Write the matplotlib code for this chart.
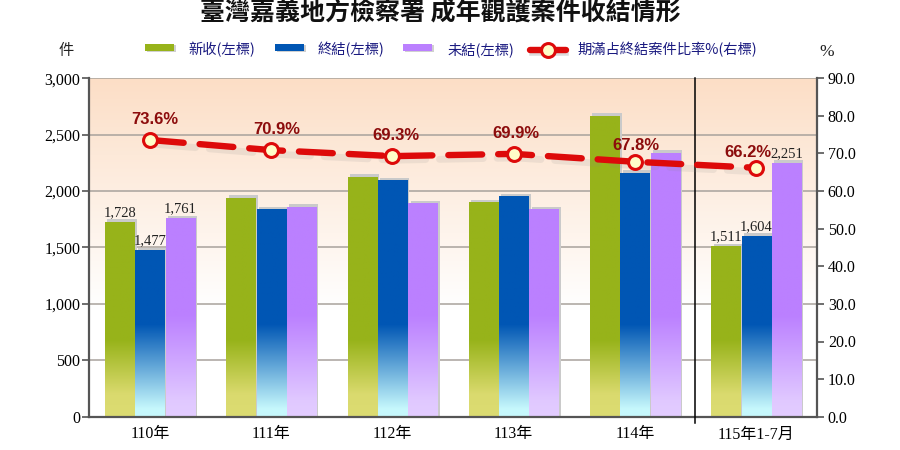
import numpy as np
import matplotlib
matplotlib.use('Agg')
import matplotlib.pyplot as plt
import matplotlib.colors as mcolors
import matplotlib.transforms as mtransforms
from matplotlib.patches import Rectangle
from matplotlib.lines import Line2D
from matplotlib.ticker import FuncFormatter, FormatStrFormatter

# ---------------- data ----------------
title = '臺灣嘉義地方檢察署 成年觀護案件收結情形'
categories = ['110年', '111年', '112年', '113年', '114年', '115年1-7月']
new_cases = [1728, 1941, 2128, 1901, 2666, 1511]        # 新收(左標)
closed_cases = [1477, 1839, 2098, 1956, 2163, 1604]     # 終結(左標)
pending_cases = [1761, 1862, 1892, 1839, 2340, 2251]    # 未結(左標)
expiry_ratio = [73.6, 70.9, 69.3, 69.9, 67.8, 66.2]     # 期滿占終結案件比率%(右標)
series_names = ['新收(左標)', '終結(左標)', '未結(左標)', '期滿占終結案件比率%(右標)']
left_ticks = [0, 500, 1000, 1500, 2000, 2500, 3000]
right_ticks = [0, 10, 20, 30, 40, 50, 60, 70, 80, 90]
labelled_groups = [0, 5]

# ---------------- style ----------------
SERIF = ['Liberation Serif', 'Noto Sans CJK TC']
CJK = ['Noto Sans CJK TC', 'DejaVu Sans']
base_colors = ['#97B31A', '#0056B4', '#BB80FF']
grad_stops = [
    [(0, '#DCDC72'), (200, '#DADA6E'), (680, '#97B31A'), (3000, '#97B31A')],
    [(0, '#C6F8FC'), (70, '#C6F8FC'), (820, '#0056B4'), (3000, '#0056B4')],
    [(0, '#E3CDFF'), (150, '#E0C8FF'), (900, '#BB80FF'), (3000, '#BB80FF')],
]
bg_stops = [(0, '#FFFFFF'), (950, '#FFFFFF'), (3000, '#FCDEC6')]
label_offsets = [(3.6, 15), (4.3, 15), (2.5, 15), (1.8, 14.4), (1.0, 11.5), (-6.0, 11)]


def gradient(stops, top=3000, n=400):
    ys = np.linspace(0, top, n)
    pos = [p for p, _ in stops]
    cols = np.array([mcolors.to_rgb(c) for _, c in stops])
    img = np.stack([np.interp(ys, pos, cols[:, k]) for k in range(3)], axis=-1)
    return img[:, None, :]


W, H = 900, 450
fig = plt.figure(figsize=(9, 4.5), dpi=100)
L, R, T, B = 89.3, 816.7, 78.3, 416.7
ax = fig.add_axes([L / W, 1 - B / H, (R - L) / W, (B - T) / H])

x = np.arange(len(categories))
ymax = 3000

# background gradient
ax.imshow(gradient(bg_stops), origin='lower', extent=[-0.5, 5.5, 0, ymax],
          aspect='auto', interpolation='bilinear', zorder=0)

bw = 0.24
offs = [-0.25, 0.0, 0.25]
all_series = [new_cases, closed_cases, pending_cases]
for s, (vals, col, stops) in enumerate(zip(all_series, base_colors, grad_stops)):
    # shadow
    ax.bar(x + offs[s] + 0.02, np.array(vals) + 22, width=bw, color='#CACACA',
           zorder=1.5, linewidth=0)
    bars = ax.bar(x + offs[s], vals, width=bw, color=col, zorder=2, linewidth=0)
    img = gradient(stops)
    for rect in bars:
        x0 = rect.get_x()
        im = ax.imshow(img, origin='lower', extent=[x0, x0 + rect.get_width(), 0, ymax],
                       aspect='auto', interpolation='bilinear', zorder=2.1)
        im.set_clip_path(rect)
    for g in labelled_groups:
        ax.annotate(f'{vals[g]:,}', (x[g] + offs[s], vals[g]), xytext=(0, 2),
                    textcoords='offset points', ha='center', va='bottom',
                    fontsize=10.5, family=SERIF, color='#222222', zorder=5)

ax.set_xlim(-0.5, 5.5)
ax.set_ylim(0, ymax)
ax.set_yticks(left_ticks)
ax.yaxis.set_major_formatter(FuncFormatter(lambda v, p: f'{int(v):,}'))
ax.set_xticks(x)
ax.set_xticklabels(categories, family=SERIF, fontsize=11.5)
ax.tick_params(axis='x', length=0, pad=7)
ax.tick_params(axis='y', direction='out', length=5, width=1.2, color='#555555',
               labelsize=11.5, pad=1.5)
for lab in ax.get_yticklabels():
    lab.set_family(SERIF)
ax.set_axisbelow(True)
ax.grid(axis='y', color='#A8A29C', linewidth=1.1)
ax.grid(axis='x', visible=False)
ax.spines['top'].set_visible(False)
ax.spines['right'].set_visible(False)
for sp in ['left', 'bottom']:
    ax.spines[sp].set_color('#555555')
    ax.spines[sp].set_linewidth(1.6)

# separator
ax.axvline(4.5, ymin=-0.018, ymax=1, color='black', lw=1.1, clip_on=False, zorder=3)

# right axis
ax2 = ax.twinx()
ax2.set_ylim(0, 90)
ax2.set_yticks(right_ticks)
ax2.yaxis.set_major_formatter(FormatStrFormatter('%.1f'))
ax2.tick_params(axis='y', direction='out', length=5, width=1.2, color='#555555',
                labelsize=11.5, pad=3)
for lab in ax2.get_yticklabels():
    lab.set_family(SERIF)
for sp in ['top', 'left', 'bottom']:
    ax2.spines[sp].set_visible(False)
ax2.spines['right'].set_color('#555555')
ax2.spines['right'].set_linewidth(1.6)

shadow_tr = mtransforms.offset_copy(ax2.transData, fig=fig, x=2, y=-4, units='dots')
ax2.plot(x, expiry_ratio, color='#888888', alpha=0.13, lw=5, dashes=(6.3, 2.0),
         dash_capstyle='round', transform=shadow_tr, zorder=3)
ax2.plot(x, expiry_ratio, color='#DD0A0A', lw=4.6, dashes=(5.3, 2.5),
         dash_capstyle='round', zorder=4)
ax2.plot(x, expiry_ratio, linestyle='none', marker='o', markersize=10,
         markerfacecolor='#FFFDC8', markeredgecolor='#DD0A0A', markeredgewidth=2.2,
         zorder=5)
for i, v in enumerate(expiry_ratio):
    ax2.annotate(f'{v:.1f}%', (x[i], v), xytext=label_offsets[i], textcoords='offset points',
                 ha='center', va='center', fontsize=12, fontweight='bold',
                 family=['Liberation Sans', 'DejaVu Sans'], color='#8C0C0C', zorder=6)

# title
fig.text(0.489, 1 - 13 / H, title, ha='center', va='center', fontsize=18,
         fontweight='bold', family=CJK, color='#111111')

# axis unit labels
fig.text(66 / W, 1 - 50 / H, '件', ha='center', va='center', fontsize=11,
         family=CJK, color='#222222')
fig.text(827 / W, 1 - 52 / H, '%', ha='center', va='center', fontsize=12.5,
         family=SERIF, color='#222222')

# legend (manual)
legend_color = '#1A1A80'
patch_x = [145, 275, 403]
text_x = [188, 318, 448, 577]
ly = 50
for px, col in zip(patch_x, base_colors):
    fig.add_artist(Rectangle(((px + 2) / W, 1 - (ly + 2) / H), 29 / W, 7 / H,
                             transform=fig.transFigure, color='#D0D0D0', lw=0))
    fig.add_artist(Rectangle((px / W, 1 - (ly + 0.5) / H), 29 / W, 7 / H,
                             transform=fig.transFigure, color=col, lw=0))
fig.add_artist(Line2D([532 / W, 566 / W], [1 - (ly + 3) / H, 1 - (ly + 3) / H],
                      transform=fig.transFigure, color='#BBBBBB', lw=4, alpha=0.5))
fig.add_artist(Line2D([530 / W, 566 / W], [1 - ly / H, 1 - ly / H],
                      transform=fig.transFigure, color='#DD0A0A', lw=4.6,
                      solid_capstyle='round'))
fig.add_artist(Line2D([548 / W], [1 - ly / H], transform=fig.transFigure,
                      marker='o', markersize=10, markerfacecolor='#FFFDC8',
                      markeredgecolor='#DD0A0A', markeredgewidth=2.2))
for tx, name in zip(text_x, series_names):
    fig.text(tx / W, 1 - ly / H, name, ha='left', va='center', fontsize=10.3,
             fontweight='medium', family=CJK, color=legend_color)

fig.savefig('out.png', dpi=100)
